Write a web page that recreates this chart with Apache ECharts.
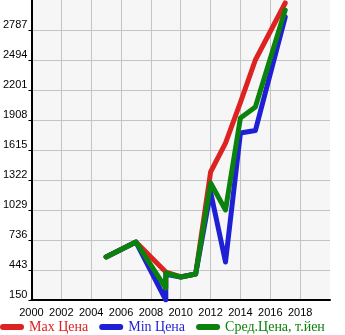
<!DOCTYPE html>
<html><head><meta charset="utf-8">
<script src="https://cdn.jsdelivr.net/npm/echarts@6/dist/echarts.min.js"></script>
<style>html,body{margin:0;padding:0;background:#fff}#c{width:345px;height:335px}</style>
</head><body><div id="c"></div>
<script>
const seriesNames = ['Max Цена', 'Min Цена', 'Сред.Цена, т.йен'];
const colors = ['#dd2222', '#1f1fd6', '#0b820b'];
const maxYears = [2005, 2007, 2009, 2010, 2011, 2012, 2013, 2014, 2015, 2017];
const maxValues = [570, 716, 423, 375, 404, 1400, 1683, 2080, 2494, 3051];
const minYears = [2005, 2007, 2009, 2009, 2010, 2011, 2012, 2013, 2014, 2015, 2017];
const minValues = [570, 716, 150, 400, 375, 404, 1205, 521, 1781, 1805, 2914];
const avgYears = [2005, 2007, 2009, 2009, 2010, 2011, 2012, 2013, 2014, 2015, 2017];
const avgValues = [570, 716, 267, 414, 375, 404, 1293, 1029, 1928, 2035, 2982];
const yMin = 150, yMax = 3080, yStep = 293;
const xMin = 2000, xMax = 2020, xStep = 2;

const pair = (xs, vs) => xs.map((x, i) => [x, vs[i]]);
const chart = echarts.init(document.getElementById('c'), null, {renderer: 'canvas'});
const lineSeries = (name, color, data) => ({
  name, type: 'line', data, symbol: 'none', animation: false,
  lineStyle: {color, width: 5, cap: 'round', join: 'round'},
  itemStyle: {color}
});
const icon = 'path://M3,0 L21,0 A3,3 0 0 1 21,6 L3,6 A3,3 0 0 1 3,0 Z';
chart.setOption({
  animation: false,
  grid: {left: 31, right: 15, top: 0, bottom: 35, show: true, backgroundColor: '#f6f6f6', borderWidth: 0},
  xAxis: {
    type: 'value', min: xMin, max: xMax, interval: xStep,
    axisLine: {show: true, onZero: false, lineStyle: {color: '#000', width: 2}},
    axisTick: {show: false},
    axisLabel: {color: '#000', fontFamily: 'Liberation Sans', fontSize: 11, margin: 7, showMaxLabel: false,
      formatter: v => v >= xMax ? '' : String(v)},
    splitLine: {show: true, showMaxLine: false, lineStyle: {color: '#c4c4c4', width: 1}}
  },
  yAxis: {
    type: 'value', min: yMin, max: yMax, interval: yStep,
    axisLine: {show: true, onZero: false, lineStyle: {color: '#000', width: 2}},
    axisTick: {show: true, length: 3, lineStyle: {color: '#000'}},
    axisLabel: {color: '#000', fontFamily: 'Liberation Sans', fontSize: 11, margin: 4, verticalAlign: 'bottom', showMaxLabel: false,
      formatter: v => v >= yMax ? '' : String(v)},
    splitLine: {show: true, showMaxLine: false, lineStyle: {color: '#c4c4c4', width: 1}}
  },
  legend: {
    left: 0, top: 320, padding: 0, itemWidth: 24, itemHeight: 7, itemGap: 11, icon,
    textStyle: {fontFamily: 'Liberation Serif', fontSize: 14},
    data: seriesNames.map((n, i) => ({name: n, textStyle: {color: colors[i]}, itemStyle: {color: colors[i]}}))
  },
  series: [
    lineSeries(seriesNames[0], colors[0], pair(maxYears, maxValues)),
    lineSeries(seriesNames[1], colors[1], pair(minYears, minValues)),
    lineSeries(seriesNames[2], colors[2], pair(avgYears, avgValues))
  ]
});
</script></body></html>
